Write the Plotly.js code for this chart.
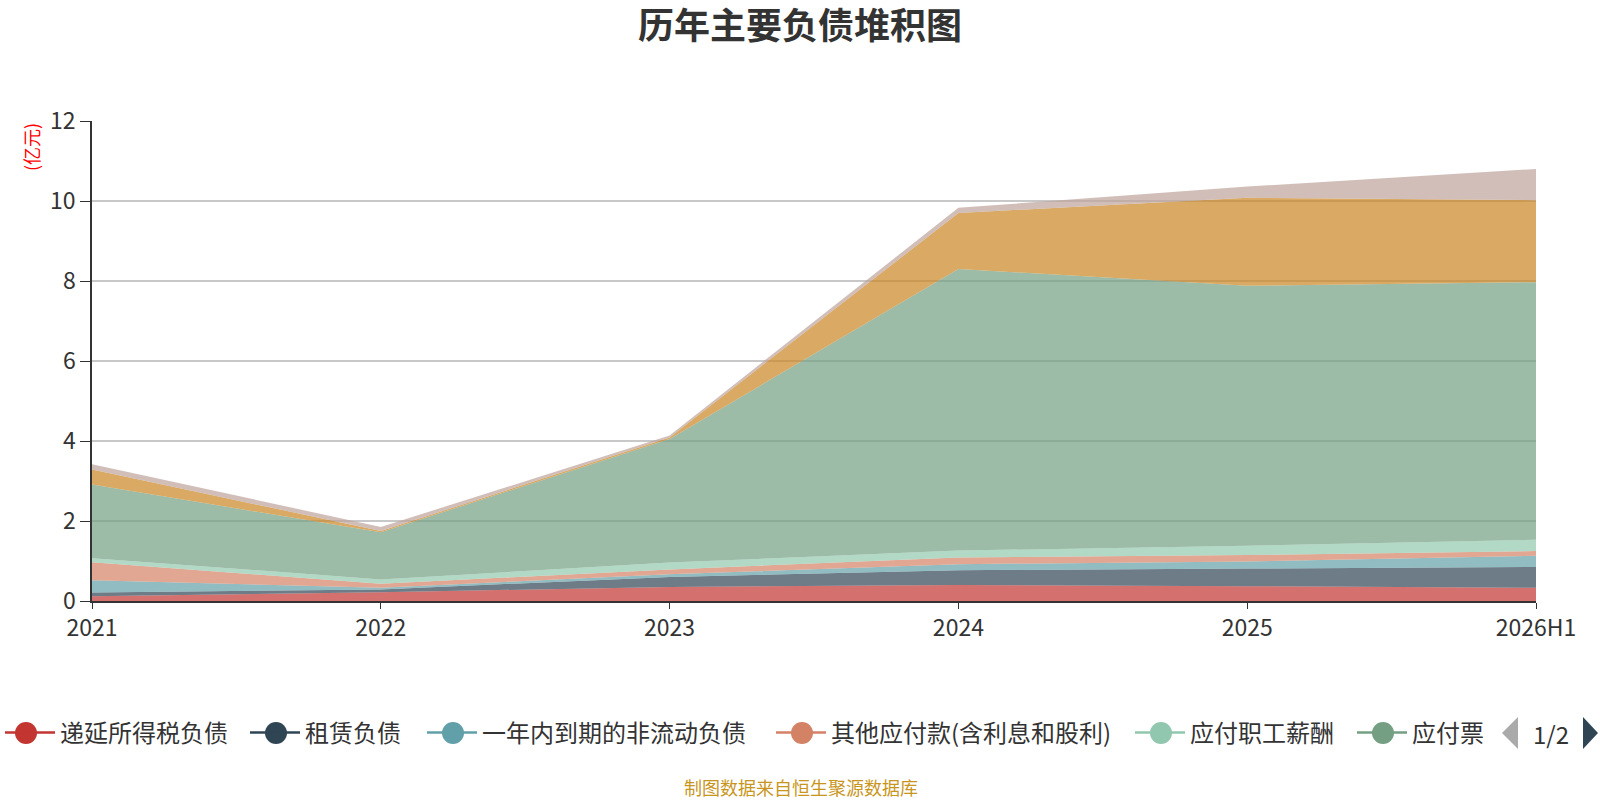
<!DOCTYPE html>
<html>
<head>
<meta charset="utf-8">
<script src="https://cdn.plot.ly/plotly-3.0.1.min.js"></script>
<style>
  body { margin: 0; background: #fff; }
  #chart { width: 1600px; height: 800px; }
</style>
</head>
<body>
<div id="chart"></div>
<script>
// values in 亿元
const years = ['2021', '2022', '2023', '2024', '2025', '2026H1']
const deferredTax = [0.12, 0.22, 0.35, 0.40, 0.37, 0.33]
const lease = [0.09, 0.07, 0.25, 0.37, 0.44, 0.52]
const dueWithinYear = [0.31, 0.04, 0.07, 0.15, 0.18, 0.28]
const otherPayables = [0.45, 0.10, 0.12, 0.17, 0.16, 0.12]
const staffPay = [0.10, 0.11, 0.17, 0.17, 0.23, 0.28]
const notesPayable = [1.84, 1.18, 3.09, 7.04, 6.50, 6.44]
const contractLiab = [0.38, 0.03, 0.04, 1.40, 2.20, 2.05]
const otherLiab = [0.13, 0.10, 0.05, 0.13, 0.28, 0.78]

const series = [
    { name: '递延所得税负债', y: deferredTax, color: '#c23531' },
    { name: '租赁负债', y: lease, color: '#2f4554' },
    { name: '一年内到期的非流动负债', y: dueWithinYear, color: '#61a0a8' },
    { name: '其他应付款(含利息和股利)', y: otherPayables, color: '#d48265' },
    { name: '应付职工薪酬', y: staffPay, color: '#91c7ae' },
    { name: '应付票据及应付账款', y: notesPayable, color: '#749f83' },
    { name: '合同负债', y: contractLiab, color: '#ca8622' },
    { name: '其他负债', y: otherLiab, color: '#bda29a' }
]

// legend page 1 only, last entry cut off like the original
const legendNames = ['递延所得税负债', '租赁负债', '一年内到期的非流动负债', '其他应付款(含利息和股利)', '应付职工薪酬', '应付票']
// left edge (px) of each legend entry
const legendLeft = [0, 250, 427, 776, 1135, 1357]

function hexToRgba(hex, a) {
    const n = parseInt(hex.slice(1), 16)
    return `rgba(${(n >> 16) & 255},${(n >> 8) & 255},${n & 255},${a})`
}

const font = 'Noto Sans CJK SC, Noto Sans, sans-serif'

// plot box in px, used to put legend decorations in paper coords
const plotL = 92, plotR = 1536, plotT = 121, plotB = 601
const toPx = px => (px - plotL) / (plotR - plotL)
const toPy = py => (plotB - py) / (plotB - plotT)
const legendY = 733

const data = []
series.forEach(s => {
    data.push({
        x: years,
        y: s.y,
        name: s.name,
        type: 'scatter',
        mode: 'lines',
        stackgroup: 'one',
        line: { width: 0, color: s.color },
        fillcolor: hexToRgba(s.color, 0.7),
        showlegend: false,
        hoverinfo: 'x+y+name'
    })
})

const layout = {
    width: 1600,
    height: 800,
    title: {
        text: '<b>历年主要负债堆积图</b>',
        x: 0.5,
        xanchor: 'center',
        y: 0.967,
        yanchor: 'middle',
        font: { family: font, size: 36, color: '#333' }
    },
    font: { family: font, color: '#333' },
    margin: { l: plotL, r: 1600 - plotR, t: plotT, b: 800 - plotB },
    paper_bgcolor: '#fff',
    plot_bgcolor: '#fff',
    xaxis: {
        type: 'category',
        range: [0, years.length - 1],
        showline: true,
        linecolor: '#333',
        linewidth: 1.5,
        ticks: 'outside',
        ticklen: 6,
        tickcolor: '#333',
        showgrid: false,
        automargin: false,
        tickfont: { size: 23, color: '#333' }
    },
    yaxis: {
        range: [0, 12],
        dtick: 2,
        showline: true,
        linecolor: '#333',
        linewidth: 1.5,
        ticks: 'outside',
        ticklen: 10,
        tickcolor: '#333',
        gridcolor: '#c8c8c8',
        gridwidth: 1.5,
        zeroline: false,
        automargin: false,
        tickfont: { size: 23, color: '#333' }
    },
    showlegend: true,
    annotations: [
        {
            text: '(亿元)',
            textangle: -90,
            xref: 'paper', yref: 'paper',
            x: toPx(31), y: 1.0,
            xanchor: 'center', yanchor: 'top',
            showarrow: false,
            font: { family: font, size: 18, color: '#ff0000' }
        },
        {
            text: '制图数据来自恒生聚源数据库',
            xref: 'paper', yref: 'paper',
            x: toPx(801), y: toPy(787),
            xanchor: 'center', yanchor: 'middle',
            showarrow: false,
            font: { family: font, size: 18, color: '#c8961e' }
        },
        {
            text: '1/2',
            xref: 'paper', yref: 'paper',
            x: toPx(1551), y: toPy(legendY),
            xanchor: 'center', yanchor: 'middle',
            showarrow: false,
            font: { family: font, size: 24, color: '#333' }
        }
    ],
    // pager triangles next to the legend
    shapes: [
        { pts: [[1502, 733], [1518, 717], [1518, 749]], color: '#aaaaaa' },
        { pts: [[1598, 733], [1583, 717], [1583, 749]], color: '#2f4554' }
    ].map(p => ({
        type: 'path',
        xref: 'paper',
        yref: 'paper',
        path: 'M ' + p.pts.map(q => toPx(q[0]) + ' ' + toPy(q[1])).join(' L ') + ' Z',
        fillcolor: p.color,
        line: { width: 0 }
    }))
}

// one small legend per entry so each sits where the original put it
legendNames.forEach((name, i) => {
    const key = i === 0 ? 'legend' : 'legend' + (i + 1)
    data.push({
        x: [null],
        y: [null],
        name,
        legend: key,
        type: 'scatter',
        mode: 'lines',
        line: { width: 2.5, color: series[i].color },
        showlegend: true,
        hoverinfo: 'skip'
    })
    layout[key] = {
        orientation: 'h',
        xref: 'container',
        yref: 'container',
        x: (legendLeft[i] - 5) / 1600,
        xanchor: 'left',
        y: 1 - legendY / 800,
        yanchor: 'middle',
        bgcolor: 'rgba(0,0,0,0)',
        font: { family: font, size: 24, color: '#333' },
        itemwidth: 50
    }
    // big round legend marker, larger than plotly's legend marker cap
    const cx = legendLeft[i] + 26
    layout.shapes.push({
        type: 'circle',
        xref: 'paper',
        yref: 'paper',
        x0: toPx(cx - 11), x1: toPx(cx + 11),
        y0: toPy(legendY + 11), y1: toPy(legendY - 11),
        fillcolor: series[i].color,
        line: { width: 0 }
    })
})

Plotly.newPlot('chart', data, layout, { displayModeBar: false })
</script>
</body>
</html>
